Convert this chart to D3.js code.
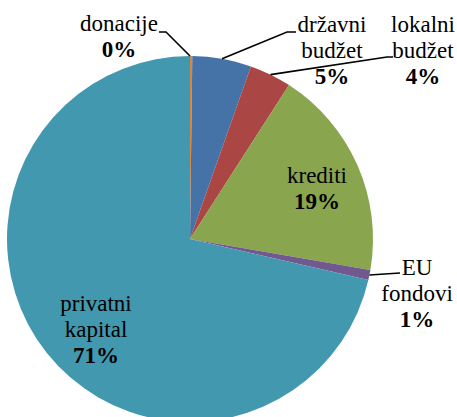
<!DOCTYPE html>
<html>
<head>
<meta charset="utf-8">
<script src="https://cdn.jsdelivr.net/npm/d3@7"></script>
<style>
  body { margin: 0; background: #fff; }
</style>
</head>
<body>
<div id="chart-container"></div>
<script>
// slice data, clockwise from 12 o'clock
const categories = ["donacije", "državni budžet", "lokalni budžet", "krediti", "EU fondovi", "privatni kapital"];
const values = [0.2, 5.2, 3.7, 18.6, 0.9, 71.4];
const colors = ["#DB843D", "#4572A7", "#AA4643", "#89A54E", "#71588F", "#4198AF"];

// label lines (name split like in the picture)
const labelLines = [["donacije"], ["državni", "budžet"], ["lokalni", "budžet"], ["krediti"], ["EU", "fondovi"], ["privatni", "kapital"]];

const width = 457;
const height = 417;
const cx = 190, cy = 239, radius = 183;
const font = "'Liberation Serif', Tinos, 'Times New Roman', Times, serif";

// where each label block sits (x centre, first baseline) and its leader line
const layout = [
    { x: 119, y: 31, leader: [[159, 32], [166, 32]] },
    { x: 332, y: 32, leader: [[296, 32], [287, 32]] },
    { x: 423, y: 32, leader: [[393, 57], [387, 57]] },
    { x: 317, y: 183, leader: null },
    { x: 417, y: 275, leader: [[400, 273]] },
    { x: 96, y: 311, leader: null }
];

const svg = d3.select("#chart-container")
    .append("svg")
    .attr("width", width)
    .attr("height", height);

const pie = d3.pie().sort(null).value(d => d.value);
const arc = d3.arc().innerRadius(0).outerRadius(radius);

const data = categories.map((c, i) => ({ name: c, value: values[i], color: colors[i], lines: labelLines[i], pos: layout[i] }));
const arcs = pie(data);

const g = svg.append("g").attr("transform", `translate(${cx},${cy})`);

g.selectAll("path")
    .data(arcs)
    .enter()
    .append("path")
    .attr("d", arc)
    .attr("fill", d => d.data.color);

// leader lines start on the pie edge at the slice middle
const line = d3.line();
arcs.forEach(a => {
    const p = a.data.pos;
    if (!p.leader) return;
    let ang = (a.startAngle + a.endAngle) / 2;
    if (a.data.name === "donacije") ang = a.startAngle;
    const start = [cx + radius * Math.sin(ang), cy - radius * Math.cos(ang)];
    const pts = [start].concat(p.leader.slice().reverse());
    svg.append("path")
        .attr("d", line(pts))
        .attr("fill", "none")
        .attr("stroke", "#000")
        .attr("stroke-width", 1.6);
});

// labels
arcs.forEach(a => {
    const p = a.data.pos;
    const t = svg.append("text")
        .attr("text-anchor", "middle")
        .attr("font-family", font)
        .attr("font-size", 23)
        .attr("fill", "#000");
    a.data.lines.forEach((l, i) => {
        t.append("tspan").attr("x", p.x).attr("y", p.y + i * 26).text(l);
    });
    t.append("tspan")
        .attr("font-weight", "bold")
        .attr("x", p.x)
        .attr("y", p.y + a.data.lines.length * 26)
        .text(Math.round(a.data.value) + "%");
});
</script>
</body>
</html>
